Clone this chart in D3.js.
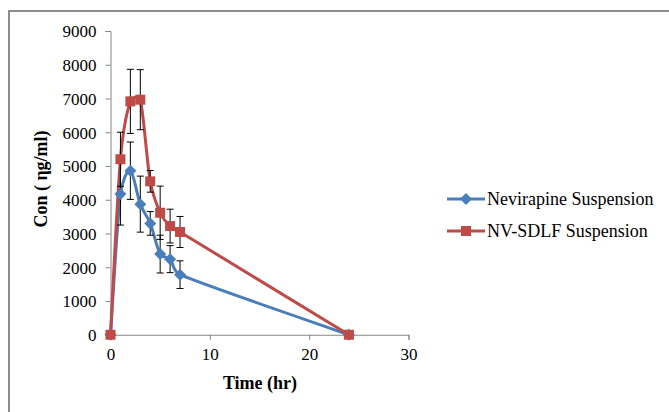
<!DOCTYPE html>
<html><head><meta charset="utf-8">
<script src="https://cdn.jsdelivr.net/npm/d3@7"></script>
<style>
html,body{margin:0;padding:0;background:#fff;}
svg{display:block;}
svg text{font-family:"Liberation Serif","Times New Roman",serif !important;fill:#000;}
</style></head>
<body>
<svg id="chart" width="669" height="412" font-family="Liberation Serif"></svg>
<script>
const times = [0, 1, 2, 3, 4, 5, 6, 7, 24];
const nevirapine = [0, 4170, 4860, 3870, 3300, 2390, 2240, 1780, 0];
const nevirapineErr = [0, 920, 850, 830, 350, 560, 400, 410, 0];
const nvsdlf = [0, 5200, 6915, 6965, 4545, 3615, 3220, 3045, 0];
const nvsdlfErr = [0, 800, 950, 890, 320, 790, 500, 460, 0];
const seriesNames = ["Nevirapine Suspension", "NV-SDLF Suspension"];
const xTicks = [0, 10, 20, 30];
const yTicks = [0, 1000, 2000, 3000, 4000, 5000, 6000, 7000, 8000, 9000];

const svg = d3.select("#chart");
const x = d3.scaleLinear().domain([0, 30]).range([110.5, 408.5]);
const y = d3.scaleLinear().domain([0, 9000]).range([334.75, 31]);

// Excel-like smoothing: uniform Catmull-Rom with clamped control handles
function ExcelCurve(context) { this._context = context; }
ExcelCurve.prototype = {
  areaStart() { this._line = 0; }, areaEnd() { this._line = NaN; },
  lineStart() { this._pts = []; },
  point(px, py) { this._pts.push([+px, +py]); },
  lineEnd() {
    const p = this._pts, c = this._context, n = p.length;
    if (!n) return;
    c.moveTo(p[0][0], p[0][1]);
    const tan = i => {
      const a = p[Math.max(0, i - 1)], b = p[Math.min(n - 1, i + 1)];
      return [(b[0] - a[0]) / 6, (b[1] - a[1]) / 6];
    };
    for (let i = 0; i < n - 1; i++) {
      const a = p[i], b = p[i + 1];
      const seg = Math.hypot(b[0] - a[0], b[1] - a[1]);
      const clamp = t => {
        const l = Math.hypot(t[0], t[1]), m = seg * 0.45;
        return l > m && l > 0 ? [t[0] * m / l, t[1] * m / l] : t;
      };
      const t1 = clamp(tan(i)), t2 = clamp(tan(i + 1));
      c.bezierCurveTo(a[0] + t1[0], a[1] + t1[1], b[0] - t2[0], b[1] - t2[1], b[0], b[1]);
    }
  }
};
const excelCurve = ctx => new ExcelCurve(ctx);

// outer border
svg.append("path").attr("d", "M9,420 L9,11 L680,11")
  .attr("fill", "none").attr("stroke", "#8c8c8c").attr("stroke-width", 2);

// axes
const axisColor = "#868686";
const yAxis = svg.append("g").attr("transform", "translate(110.5,0)")
  .call(d3.axisLeft(y).tickValues(yTicks).tickSize(5).tickPadding(9).tickFormat(d3.format("d")));
const xAxis = svg.append("g").attr("transform", "translate(0,334.75)")
  .call(d3.axisBottom(x).tickValues(xTicks).tickSize(5).tickPadding(8).tickFormat(d3.format("d")));
[yAxis, xAxis].forEach(g => {
  g.attr("font-family", "Liberation Serif").attr("font-size", 17);
  g.select(".domain").attr("stroke", axisColor);
  g.selectAll(".tick line").attr("stroke", axisColor);
  g.selectAll("text").attr("fill", "#000");
});
yAxis.selectAll("text").attr("dy", "0.34em");

// axis titles
svg.append("text").attr("x", 260).attr("y", 389).attr("text-anchor", "middle")
  .attr("font-size", 18).attr("font-weight", "bold").text("Time (hr)");
svg.append("text").attr("transform", "translate(47,179) rotate(-90)").attr("text-anchor", "middle")
  .attr("font-size", 18).attr("font-weight", "bold").text("Con ( ηg/ml)");

const series = [
  {name: seriesNames[0], vals: nevirapine, err: nevirapineErr, color: "#4A7EBB", marker: "diamond"},
  {name: seriesNames[1], vals: nvsdlf, err: nvsdlfErr, color: "#BE4B48", marker: "square"}
];

const line = d3.line().x(d => x(d[0])).y(d => y(d[1])).curve(excelCurve);

function drawMarker(g, type, cx, cy, color) {
  if (type === "square") {
    g.append("rect").attr("x", cx - 5).attr("y", cy - 5).attr("width", 10).attr("height", 10).attr("fill", color);
  } else {
    g.append("path").attr("d", `M${cx},${cy-6} L${cx+6},${cy} L${cx},${cy+6} L${cx-6},${cy} Z`).attr("fill", color);
  }
}

series.forEach(s => {
  const pts = times.map((t, i) => [t, s.vals[i]]);
  svg.append("path").attr("d", line(pts)).attr("fill", "none")
    .attr("stroke", s.color).attr("stroke-width", 3).attr("stroke-linejoin", "round");
});
series.forEach(s => {
  const g = svg.append("g");
  times.forEach((t, i) => {
    const e = s.err[i];
    if (!e) return;
    const cx = x(t), y1 = y(s.vals[i] + e), y2 = y(s.vals[i] - e);
    g.append("line").attr("x1", cx).attr("x2", cx).attr("y1", y1).attr("y2", y2).attr("stroke", "#000").attr("stroke-width", 1);
    [y1, y2].forEach(yy => g.append("line").attr("x1", cx - 3.5).attr("x2", cx + 3.5).attr("y1", yy).attr("y2", yy).attr("stroke", "#000").attr("stroke-width", 1));
  });
});
series.forEach(s => {
  const g = svg.append("g");
  times.forEach((t, i) => drawMarker(g, s.marker, x(t), y(s.vals[i]), s.color));
});

// legend
series.forEach((s, i) => {
  const ly = 199 + i * 32;
  const g = svg.append("g");
  g.append("line").attr("x1", 447).attr("x2", 485).attr("y1", ly).attr("y2", ly).attr("stroke", s.color).attr("stroke-width", 3);
  drawMarker(g, s.marker, 466, ly, s.color);
  g.append("text").attr("x", 487).attr("y", ly + 6).attr("font-size", 18).text(s.name);
});
</script>
</body></html>
